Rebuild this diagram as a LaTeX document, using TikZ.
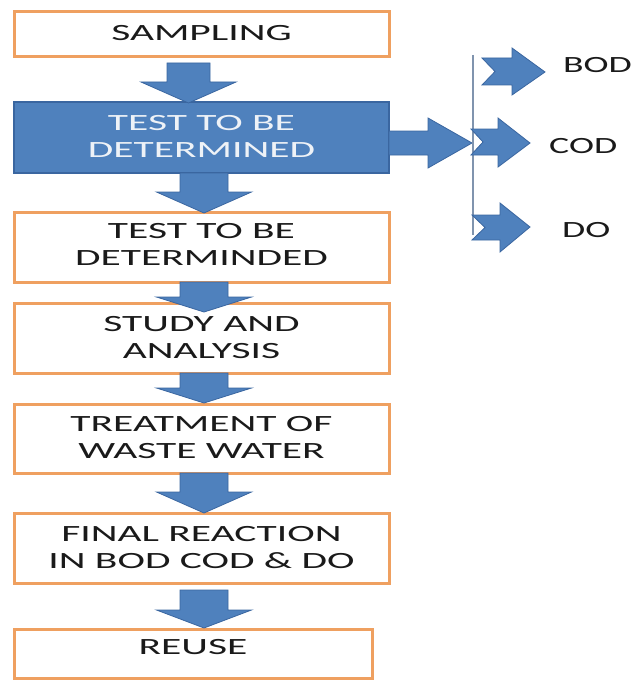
\documentclass[tikz,border=0pt]{standalone}
\usepackage{fontspec}
\setmainfont{Carlito}
\newfontfamily\widefont[FakeStretch=1.78]{Carlito}
\newfontfamily\sidefont[FakeStretch=1.62]{Carlito}
\definecolor{boxorange}{HTML}{EFA060}
\definecolor{blockblue}{HTML}{4F81BD}
\definecolor{blockedge}{HTML}{3A66A0}
\definecolor{textblack}{HTML}{1A1A1A}
\definecolor{lighttext}{HTML}{EEF2F7}
\definecolor{guide}{HTML}{8094AE}
\newcommand\downblock[7]{% cx, shaft half, head half, ytop, yhead, ytip, name
  \draw[blockarrow] (#1-#2,#4) -- (#1+#2,#4) -- (#1+#2,#5) -- (#1+#3,#5)
    -- (#1,#6) -- (#1-#3,#5) -- (#1-#2,#5) -- cycle;}
\begin{document}
\begin{tikzpicture}[x=1pt,y=-1pt,
  flowbox/.style={draw=boxorange, line width=3pt, fill=white,
    minimum width=375pt, inner sep=0pt, align=center,
    font=\widefont\fontsize{23.3}{27}\selectfont, text=textblack},
  bluebox/.style={flowbox, draw=blockedge, line width=1.5pt, fill=blockblue, text=lighttext},
  blockarrow/.style={fill=blockblue, draw=blockedge, line width=0.8pt, line join=miter},
  sidelabel/.style={anchor=base west, inner sep=0pt,
    font=\sidefont\fontsize{23.3}{27}\selectfont, text=textblack}
]
\useasboundingbox (0,0) rectangle (637,682);

% boxes
\node[flowbox, minimum height=45pt, text depth=4pt] (b1) at (201.5,34.5) {SAMPLING};
\node[bluebox, minimum height=71pt, text depth=3pt] (b2) at (201.5,137.5) {TEST TO BE\\DETERMINED};
\node[flowbox, minimum height=70pt, text depth=6pt] (b3) at (201.5,247) {TEST TO BE\\DETERMINDED};
\node[flowbox, minimum height=70pt] (b4) at (201.5,338) {STUDY AND\\ANALYSIS};
\node[flowbox, minimum height=69pt, text depth=3pt] (b5) at (201.5,438.5) {TREATMENT OF\\WASTE WATER};
\node[flowbox, minimum height=70pt, text depth=2pt] (b6) at (201.5,548) {FINAL REACTION\\IN BOD COD \& DO};
\node[flowbox, minimum width=358pt, minimum height=49pt, text depth=13pt] (b7) at (193,653.5) {REUSE};

% down block arrows
\downblock{188.5}{21.5}{47.5}{63}{82}{103}{a1}
\downblock{204}{24}{47.5}{173}{192}{213}{a2}
\downblock{204}{24}{47.5}{282}{297}{312}{a3}
\downblock{204}{24}{47.5}{373}{388}{403}{a4}
\downblock{204}{24}{47.5}{473}{492}{513}{a5}
\downblock{204}{24}{47.5}{590}{610}{628}{a6}

% right block arrow
\draw[blockarrow] (389,131) -- (428,131) -- (428,118) -- (472,143) -- (428,168)
  -- (428,155) -- (389,155) -- cycle;

% guide line
\coordinate (gtop) at (473,55);
\coordinate (gbot) at (473,235);
\draw[guide, line width=1.3pt] (gtop) -- (gbot);

% notched arrows
\draw[blockarrow] (482,58) -- (512,58) -- (512,48) -- (545,72) -- (512,95)
  -- (512,85) -- (482,85) -- (495,71.5) -- cycle;
\draw[blockarrow] (471,129) -- (498,129) -- (498,118) -- (530,143) -- (498,167)
  -- (498,155) -- (471,155) -- (483,142) -- cycle;
\draw[blockarrow] (472,215) -- (500,215) -- (500,203) -- (530,227) -- (500,252)
  -- (500,240) -- (472,240) -- (485,227.5) -- cycle;

% labels
\node[sidelabel] (bod) at (563,73) {BOD};
\node[sidelabel] (cod) at (549,153) {COD};
\node[sidelabel] (do) at (562,237) {DO};
\end{tikzpicture}
\end{document}
